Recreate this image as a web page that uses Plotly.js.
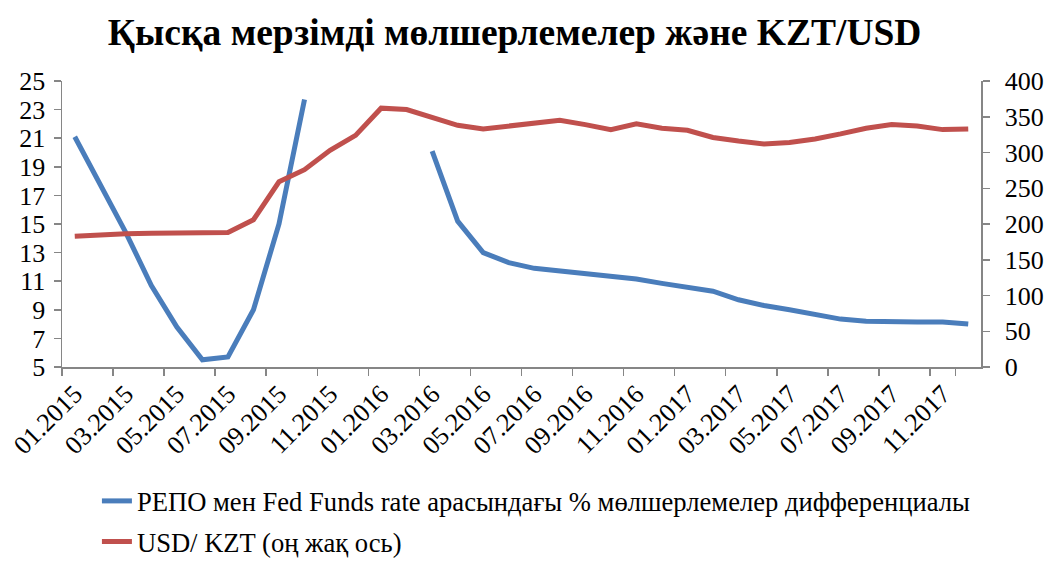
<!DOCTYPE html>
<html>
<head>
<meta charset="utf-8">
<script src="https://cdn.plot.ly/plotly-3.0.1.min.js"></script>
<style>html,body{margin:0;padding:0;background:#fff}#chart{width:1046px;height:562px}</style>
</head>
<body>
<div id="chart"></div>
<script>
const months = ["01.2015","02.2015","03.2015","04.2015","05.2015","06.2015","07.2015","08.2015","09.2015","10.2015","11.2015","12.2015",
"01.2016","02.2016","03.2016","04.2016","05.2016","06.2016","07.2016","08.2016","09.2016","10.2016","11.2016","12.2016",
"01.2017","02.2017","03.2017","04.2017","05.2017","06.2017","07.2017","08.2017","09.2017","10.2017","11.2017","12.2017"];
const rateDiff = [21.1,17.8,14.4,10.7,7.8,5.5,5.7,9.0,15.0,23.7,null,null,
null,null,20.1,15.2,13.0,12.3,11.9,11.7,11.5,11.3,11.15,10.85,
10.6,10.3,9.7,9.3,9.0,8.65,8.35,8.2,8.15,8.15,8.15,8.0];
const usdKzt = [183,185,186.5,187,187.5,187.5,188,206,259,276,303,324,
362,360,349,338,333,337,341,345,339,332,340,334,
331,321,316,312,314,319,326,334,339,337,332,333];
const tickLabels = months.filter((m,i)=>i%2===0);
const tickPos = months.filter((m,i)=>i%2===0);
const leftTicks = [5,7,9,11,13,15,17,19,21,23,25];
const rightTicks = [0,50,100,150,200,250,300,350,400];

const FONT = "Liberation Serif";
const axisCol = "#868686";

const traces = [
  {x: months, y: rateDiff, type: "scatter", mode: "lines", name: "РЕПО мен Fed Funds rate арасындағы % мөлшерлемелер дифференциалы",
   line: {color: "#4A7DBB", width: 5}, connectgaps: false, yaxis: "y", legendgroup: "a"},
  {x: months, y: usdKzt, type: "scatter", mode: "lines", name: "USD/ KZT (оң жақ ось)",
   line: {color: "#C0504D", width: 5}, yaxis: "y2", legendgroup: "b"}
];

const layout = {
  width: 1046, height: 562,
  margin: {l: 62, r: 65, t: 81, b: 195, autoexpand: false},
  paper_bgcolor: "#fff", plot_bgcolor: "#fff",
  font: {family: FONT, color: "#000", size: 22},
  title: {text: "<b>Қысқа мерзімді мөлшерлемелер және KZT/USD</b>", x: 0.492, xanchor: "center", y: 0.943, yanchor: "middle",
          font: {family: FONT, size: 37.5, color: "#000"}},
  showlegend: true,
  legend: {x: 0.038, xanchor: "left", y: -0.385, yanchor: "top", orientation: "v", tracegroupgap: 3,
           font: {family: FONT, size: 26.6, color: "#000"}, bgcolor: "rgba(0,0,0,0)"},
  xaxis: {type: "category", categoryorder: "array", categoryarray: months, range: [-0.5, 35.5], automargin: false,
          tickmode: "array", tickvals: tickPos, ticktext: tickLabels, tickangle: -45, tickson: "boundaries",
          ticks: "outside", ticklen: 7, tickcolor: axisCol, tickwidth: 1.5,
          showline: true, linecolor: axisCol, linewidth: 1.5, showgrid: false, zeroline: false,
          tickfont: {family: FONT, size: 26, color: "#000"}},
  yaxis: {range: [5, 25], tickmode: "array", tickvals: leftTicks, ticks: "outside", ticklen: 7, tickcolor: axisCol, tickwidth: 1.5,
          showline: true, linecolor: axisCol, linewidth: 1.5, showgrid: false, zeroline: false, automargin: false,
          ticklabelstandoff: 3,
          tickfont: {family: FONT, size: 26, color: "#000"}},
  yaxis2: {range: [0, 400], overlaying: "y", side: "right", tickmode: "array", tickvals: rightTicks, ticks: "outside", ticklen: 7,
           tickcolor: axisCol, tickwidth: 1.5, showline: true, linecolor: axisCol, linewidth: 1.5, showgrid: false, zeroline: false, automargin: false,
           ticklabelstandoff: 10,
           tickfont: {family: FONT, size: 26, color: "#000"}}
};

Plotly.newPlot("chart", traces, layout, {displayModeBar: false, staticPlot: true});
</script>
</body>
</html>
